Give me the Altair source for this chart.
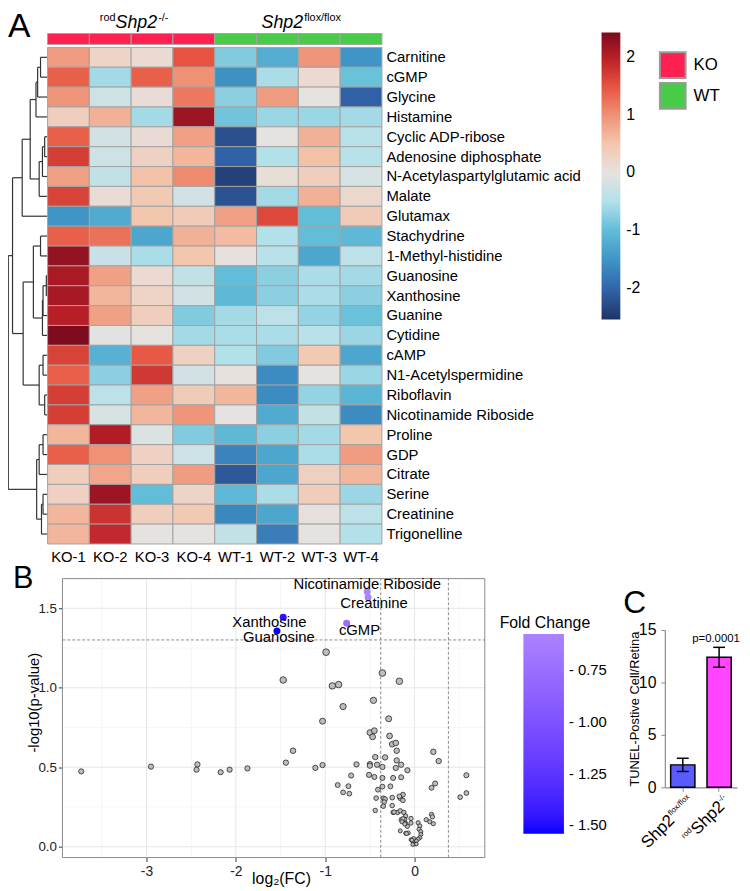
import numpy as np
import pandas as pd
import altair as alt

FONT = "Liberation Sans"
W, H = 742, 883  # whole drawing area (page minus 8px margin)

# ======================= Panel A : heatmap =======================
samples = ["KO-1", "KO-2", "KO-3", "KO-4", "WT-1", "WT-2", "WT-3", "WT-4"]
sample_group = ["KO", "KO", "KO", "KO", "WT", "WT", "WT", "WT"]
groups = ["KO", "WT"]
group_colors = ["#ff2052", "#48cc48"]

metabolites = [
    "Carnitine", "cGMP", "Glycine", "Histamine", "Cyclic ADP-ribose",
    "Adenosine diphosphate", "N-Acetylaspartylglutamic acid", "Malate",
    "Glutamax", "Stachydrine", "1-Methyl-histidine", "Guanosine", "Xanthosine",
    "Guanine", "Cytidine", "cAMP", "N1-Acetylspermidine", "Riboflavin",
    "Nicotinamide Riboside", "Proline", "GDP", "Citrate", "Serine",
    "Creatinine", "Trigonelline",
]

z_values = [
    [0.90, 0.25, 0.15, 1.50, -0.80, -1.20, 0.95, -1.50],
    [1.40, -0.60, 1.40, 1.00, -1.55, -0.55, 0.15, -0.95],
    [0.95, -0.25, 0.10, 1.20, -0.75, 0.90, 0.00, -2.05],
    [0.35, 0.70, -0.60, 2.20, -0.90, -0.65, -0.65, -0.60],
    [1.40, -0.20, 0.12, 0.85, -2.25, 0.00, 0.70, -0.45],
    [1.70, -0.25, 0.30, 0.65, -2.05, -0.50, 0.55, -0.45],
    [0.85, -0.35, 0.55, 1.05, -2.40, 0.08, 0.35, -0.15],
    [1.65, 0.10, 0.45, -0.20, -2.20, -0.60, 0.70, 0.20],
    [-1.50, -1.25, 0.50, 0.40, 0.85, 1.60, -1.00, 0.40],
    [1.40, 1.25, -1.30, 0.70, 0.60, -0.50, -1.00, -1.05],
    [2.25, -0.30, -0.55, 0.50, 0.05, -0.45, -1.30, -0.40],
    [2.10, 0.85, 0.15, -0.35, -1.00, -0.75, -0.55, -0.60],
    [2.12, 0.65, 0.25, -0.20, -1.05, -0.75, -0.55, -0.75],
    [2.00, 0.85, 0.35, -0.80, -0.60, -0.40, -0.70, -0.95],
    [2.40, -0.05, 0.00, -0.60, -0.55, -0.55, -0.45, -0.65],
    [1.65, -1.15, 1.45, 0.30, -0.50, -0.80, 0.45, -1.30],
    [1.40, -0.75, 1.75, -0.20, 0.02, -1.60, 0.00, -0.65],
    [1.70, -0.40, 0.85, 0.40, 0.65, -1.60, -0.70, -1.10],
    [1.70, -0.15, 0.65, 0.95, 0.00, -1.25, -0.35, -1.60],
    [0.65, 2.05, -0.12, -0.80, -1.05, -0.75, -0.60, 0.50],
    [1.40, 1.00, 0.30, -0.25, -1.70, -1.30, -0.55, 0.90],
    [0.35, 0.80, 0.35, 0.90, -2.15, -1.30, 0.32, 0.65],
    [0.30, 2.20, -1.00, 0.25, -1.05, -0.55, 0.38, -0.65],
    [0.65, 1.80, 0.35, 0.45, -1.65, -1.30, 0.05, -0.40],
    [0.65, 1.90, 0.00, 0.00, -0.35, -1.75, 0.00, -0.50],
]

# row dendrogram: (node, left, right, merge height)
dendro_merges = [
    ("n01", "Carnitine", "cGMP", 7.3),
    ("n02", "n01", "Glycine", 10.3),
    ("n03", "n02", "Histamine", 12.0),
    ("n04", "Cyclic ADP-ribose", "Adenosine diphosphate", 3.0),
    ("n05", "n04", "N-Acetylaspartylglutamic acid", 5.3),
    ("n06", "n05", "Malate", 8.7),
    ("n07", "n03", "n06", 18.0),
    ("n08", "n07", "Glutamax", 26.3),
    ("n09", "Stachydrine", "1-Methyl-histidine", 7.3),
    ("n10", "Guanosine", "Xanthosine", 1.3),
    ("n11", "n10", "Guanine", 4.7),
    ("n12", "n11", "Cytidine", 5.3),
    ("n13", "n09", "n12", 14.7),
    ("n14", "cAMP", "N1-Acetylspermidine", 4.7),
    ("n15", "Riboflavin", "Nicotinamide Riboside", 3.0),
    ("n16", "n14", "n15", 8.7),
    ("n17", "n13", "n16", 25.3),
    ("n18", "Proline", "GDP", 4.7),
    ("n19", "n18", "Citrate", 8.7),
    ("n20", "Serine", "Creatinine", 4.7),
    ("n21", "n20", "Trigonelline", 6.3),
    ("n22", "n19", "n21", 11.3),
    ("n23", "n08", "n17", 36.3),
    ("n24", "n23", "n22", 40.7),
]

hm_stops = [-2.55, -2.0, -1.5, -1.0, -0.5, 0.0, 0.5, 1.0, 1.5, 2.0, 2.43]
hm_colors = ["#1f3366", "#3266ac", "#3f96c6", "#62bdd8", "#b3e1ea", "#e6e2e0",
             "#f3c6ae", "#ef9174", "#e6533f", "#b81e27", "#7a0b1d"]

# ======================= Panel B : volcano =======================
gray_fc = [
    -3.73, -2.95, -2.43, -2.44, -2.17, -2.07, -1.87, -1.44, -1.36, -1.11,
    -1.03, -1.03, -0.80, -0.99, -1.47, -0.92, -0.85, -0.36, -0.17, -0.46,
    -0.29, -0.50, -0.45, -0.47, -0.28, -0.25, -0.21, -0.20, 0.21, 0.27,
    -0.44, -0.33, -0.20, -0.15, -0.08, -0.21, -0.50, -0.50, -0.42, -0.36,
    -0.65, -0.71, -0.86, -0.80, -0.74, -0.73, -0.51, -0.45, -0.36, -0.24,
    -0.15, -0.41, -0.36, -0.27, -0.43, -0.35, -0.33, -0.34, -0.35, -0.25,
    -0.25, -0.16, -0.13, -0.13, -0.44, -0.24, -0.19, -0.16, -0.12, -0.10,
    -0.15, -0.11, -0.10, -0.04, -0.04, -0.08, -0.16, -0.10, -0.07, 0.04,
    0.06, 0.05, 0.07, 0.07, 0.06, 0.04, 0.02, -0.04, -0.02, 0.00,
    0.02, 0.13, 0.17, 0.19, 0.20, 0.21, 0.19, 0.23, 0.51, 0.58,
    0.58, -0.13, -0.14, -0.11, -0.09, -0.01, -0.03, -0.02, -0.23, -0.17,
]
gray_nlogp = [
    0.474, 0.504, 0.518, 0.485, 0.469, 0.485, 0.493, 0.529, 0.604, 0.496,
    0.514, 0.790, 0.882, 1.224, 1.049, 1.012, 1.020, 1.093, 1.041, 0.921,
    0.805, 0.718, 0.730, 0.691, 0.697, 0.645, 0.653, 0.604, 0.597, 0.539,
    0.564, 0.562, 0.543, 0.516, 0.481, 0.496, 0.520, 0.510, 0.516, 0.502,
    0.518, 0.448, 0.388, 0.342, 0.381, 0.334, 0.452, 0.439, 0.433, 0.433,
    0.437, 0.359, 0.378, 0.380, 0.306, 0.305, 0.300, 0.281, 0.255, 0.309,
    0.259, 0.305, 0.328, 0.292, 0.228, 0.216, 0.216, 0.226, 0.216, 0.193,
    0.170, 0.172, 0.147, 0.178, 0.149, 0.128, 0.100, 0.085, 0.087, 0.151,
    0.131, 0.110, 0.095, 0.077, 0.058, 0.048, 0.037, 0.044, 0.031, 0.017,
    0.017, 0.170, 0.157, 0.203, 0.188, 0.145, 0.371, 0.398, 0.312, 0.338,
    0.450, 0.176, 0.157, 0.143, 0.083, 0.052, 0.042, 0.014, 0.218, 0.317,
]
sig_names = ["Nicotinamide Riboside", "Creatinine", "Xanthosine", "Guanosine", "cGMP"]
sig_fc = [-0.53, -0.52, -1.47, -1.54, -0.76]
sig_nlogp = [1.605, 1.568, 1.444, 1.357, 1.406]
p_cut = 0.05
fc_cut = 1.3
fc_legend_values = [-0.75, -1.00, -1.25, -1.50]

# ======================= Panel C : bars =======================
c_groups = ["WT", "KO"]
c_mean = [2.14, 12.4]
c_sem = [0.63, 0.95]
c_colors = ["#5a5aff", "#ff45ff"]
c_ptext = "p=0.0001"

# ---------------------------------------------------------------
CW = {'S': .667, 'h': .556, 'p': .556, '2': .556, 'f': .278, 'l': .222,
      'o': .556, 'x': .5, '/': .278, '-': .333, 'r': .333, 'd': .556}


def tw(s, size):
    return sum(CW.get(c, .556) for c in s) * size


NEG = "datum.value < 0 ? '-' + format(-datum.value, 'd') : format(datum.value, 'd')"
layers = []

# ---------------- Panel A layers ----------------
pos = {m: i + 0.5 for i, m in enumerate(metabolites)}
hgt = {m: 0.0 for m in metabolites}
segs = []
for node, a, b, h in dendro_merges:
    segs.append(dict(x1=h, x2=h, y1=pos[a], y2=pos[b]))
    segs.append(dict(x1=hgt[a], x2=h, y1=pos[a], y2=pos[a]))
    segs.append(dict(x1=hgt[b], x2=h, y1=pos[b], y2=pos[b]))
    pos[node] = (pos[a] + pos[b]) / 2
    hgt[node] = h
seg_df = pd.DataFrame(segs)
DX = alt.Scale(domain=[0, 41], range=[40, 0], nice=False, zero=False)
DY = alt.Scale(domain=[0, len(metabolites)], range=[35, 537], nice=False, zero=False)
layers.append(alt.Chart(seg_df).mark_rule(color="#333333", strokeWidth=1.2).encode(
    x=alt.X("x1:Q", scale=DX, axis=None), x2="x2:Q",
    y=alt.Y("y1:Q", scale=DY, axis=None), y2="y2:Q"))

XS = alt.Scale(domain=samples, range=[40, 378], paddingInner=0, paddingOuter=0)
YM = alt.Scale(domain=metabolites, range=[35, 537], paddingInner=0, paddingOuter=0)
hm_df = pd.DataFrame([{"metabolite": m, "sample": s, "z": z_values[i][j]}
                      for i, m in enumerate(metabolites) for j, s in enumerate(samples)])
layers.append(alt.Chart(hm_df).mark_rect(stroke="#a3a3a3", strokeWidth=1).encode(
    x=alt.X("sample:N", scale=XS, axis=alt.Axis(
        orient="bottom", offset=537 - H, domain=False, ticks=False, tickSize=0,
        labelAngle=0, labelAlign="center", labelBaseline="top", labelFontSize=15,
        labelPadding=6, labelColor="black", title=None, grid=False)),
    y=alt.Y("metabolite:N", scale=YM, axis=alt.Axis(
        orient="right", offset=378 - W, domain=False, ticks=False, tickSize=0,
        labelFontSize=15, labelPadding=4, labelColor="black", labelLimit=400,
        title=None, grid=False)),
    fill=alt.Fill("z:Q", scale=alt.Scale(domain=hm_stops, range=hm_colors, interpolate="rgb"),
                  legend=alt.Legend(orient="none", legendX=600, legendY=20, direction="vertical",
                                    gradientLength=290, gradientThickness=19, values=[2, 1, 0, -1, -2],
                                    labelExpr=NEG, labelFontSize=16, labelOffset=6, labelColor="black",
                                    labelOverlap=False, title=None, padding=0, gradientStrokeWidth=0))))

ann_df = pd.DataFrame({"sample": samples, "group": sample_group, "track": "Group"})
layers.append(alt.Chart(ann_df).mark_rect(stroke="#a3a3a3", strokeWidth=1).encode(
    x=alt.X("sample:N", scale=XS, axis=None),
    y=alt.Y("track:N", scale=alt.Scale(domain=["Group"], range=[21, 32], paddingInner=0, paddingOuter=0),
            axis=None),
    fill=alt.Fill("group:N", scale=alt.Scale(domain=groups, range=group_colors),
                  legend=alt.Legend(orient="none", legendX=658, legendY=39, symbolType="square",
                                    symbolSize=676, symbolStrokeColor="#9a9a9a", symbolStrokeWidth=2,
                                    labelFontSize=17, labelColor="black", labelOffset=7, title=None,
                                    padding=0, rowPadding=-11))))

# column-group header with super-scripts
XG = alt.Scale(domain=groups, range=[40, 378], paddingInner=0, paddingOuter=0)
hdr_pre = ["rod", ""]
hdr_main = ["Shp2", "Shp2"]
hdr_sup = ["-/-", "flox/flox"]
for g, pre, main, sup in zip(groups, hdr_pre, hdr_main, hdr_sup):
    w_pre = tw(pre, 11)
    w_main = tw(main, 18) + 1
    w_sup = tw(sup, 11)
    left = -(w_pre + w_main + w_sup) / 2 + 3
    pieces = [(pre, 11, "normal", left, 8), (main, 18, "italic", left + w_pre, 15),
              (sup, 11, "normal", left + w_pre + w_main, 8)]
    for txt, fs, style, dx, ypix in pieces:
        if not txt:
            continue
        layers.append(alt.Chart(pd.DataFrame({"group": [g], "t": [txt]})).mark_text(
            align="left", baseline="alphabetic", fontSize=fs, fontStyle=style, dx=dx, color="black").encode(
            x=alt.X("group:N", scale=XG, axis=None), y=alt.value(ypix), text="t:N"))

layers.append(alt.Chart(pd.DataFrame({"t": ["A"]})).mark_text(
    align="left", baseline="alphabetic", fontSize=34, color="black").encode(
    x=alt.value(0), y=alt.value(24), text="t:N"))

# ---------------- Panel B layers ----------------
VX_DOM = [-3.941, 0.786]
VY_DOM = [-0.068, 1.687]
VX = alt.Scale(domain=VX_DOM, range=[55, 482], nice=False, zero=False)
VY = alt.Scale(domain=VY_DOM, range=[854, 572], nice=False, zero=False)
maj_x = [-3, -2, -1, 0]
min_x = [-3.5, -2.5, -1.5, -0.5, 0.5]
maj_y = [0.0, 0.5, 1.0, 1.5]
min_y = [0.25, 0.75, 1.25]


def vrules(vals, **mk):
    df = pd.DataFrame({"x": vals, "y0": VY_DOM[0], "y1": VY_DOM[1]})
    return alt.Chart(df).mark_rule(**mk).encode(
        x=alt.X("x:Q", scale=VX, axis=None), y=alt.Y("y0:Q", scale=VY, axis=None), y2="y1:Q")


def hrules(vals, **mk):
    df = pd.DataFrame({"y": vals, "x0": VX_DOM[0], "x1": VX_DOM[1]})
    return alt.Chart(df).mark_rule(**mk).encode(
        y=alt.Y("y:Q", scale=VY, axis=None), x=alt.X("x0:Q", scale=VX, axis=None), x2="x1:Q")


layers.append(vrules(min_x, color="#f2f2f2", strokeWidth=0.7))
layers.append(hrules(min_y, color="#f2f2f2", strokeWidth=0.7))
layers.append(vrules(maj_x, color="#e6e6e6", strokeWidth=1))
layers.append(hrules(maj_y, color="#e6e6e6", strokeWidth=1))
layers.append(hrules([-np.log10(p_cut)], color="#6e6e6e", strokeWidth=0.8, strokeDash=[3, 2]))
layers.append(vrules([-np.log2(fc_cut), np.log2(fc_cut)], color="#6e6e6e", strokeWidth=0.8, strokeDash=[3, 2]))

frame_df = pd.DataFrame({"x0": [VX_DOM[0]], "x1": [VX_DOM[1]], "y0": [VY_DOM[0]], "y1": [VY_DOM[1]]})
layers.append(alt.Chart(frame_df).mark_rect(fillOpacity=0, stroke="#8a8a8a", strokeWidth=1).encode(
    x=alt.X("x0:Q", scale=VX, axis=None), x2="x1:Q",
    y=alt.Y("y0:Q", scale=VY, axis=None), y2="y1:Q"))

gray_df = pd.DataFrame({"fc": gray_fc, "nlp": gray_nlogp})
layers.append(alt.Chart(gray_df).mark_circle(color="#bdbdbd", stroke="#1a1a1a", strokeWidth=0.75, opacity=1).encode(
    x=alt.X("fc:Q", scale=VX, axis=alt.Axis(
        orient="bottom", offset=854 - H, values=maj_x, labelExpr=NEG, grid=False, domain=False,
        tickSize=4, tickColor="#333333", labelFontSize=14, labelColor="#222222", labelPadding=3,
        title="log₂(FC)", titleFontSize=16, titleFontWeight="normal", titleColor="black",
        titleX=276, titleY=26, titleBaseline="alphabetic")),
    y=alt.Y("nlp:Q", scale=VY, axis=alt.Axis(
        orient="left", offset=-55, values=maj_y, format=".1f", grid=False, domain=False,
        tickSize=4, tickColor="#333333", labelFontSize=13.5, labelColor="#222222", labelPadding=2,
        title="-log10(p-value)", titleFontSize=15, titleFontWeight="normal", titleColor="black",
        titleAngle=270, titleX=-24, titleY=697, titleBaseline="alphabetic")),
    size=alt.Size("nlp:Q", scale=alt.Scale(domain=[0, 1.1], range=[14, 46], clamp=True), legend=None)))

sig_df = pd.DataFrame({"name": sig_names, "fc": sig_fc, "nlp": sig_nlogp})
layers.append(alt.Chart(sig_df).mark_circle(size=50, opacity=1).encode(
    x=alt.X("fc:Q", scale=VX, axis=None),
    y=alt.Y("nlp:Q", scale=VY, axis=None),
    color=alt.Color("fc:Q", scale=alt.Scale(domain=[-1.54, -0.575], range=["#0000ff", "#ab82ff"],
                                            interpolate="lab", clamp=True),
                    legend=alt.Legend(orient="none", legendX=521, legendY=628, direction="vertical",
                                      gradientLength=202, gradientThickness=41, values=fc_legend_values,
                                      labelExpr="'- ' + format(-datum.value, '.2f')", labelFontSize=15,
                                      labelOffset=5, labelColor="black", labelOverlap=False,
                                      title=None, padding=0, gradientStrokeWidth=0))))

label_offsets = {"Nicotinamide Riboside": (0, -3), "Creatinine": (6, 11), "Xanthosine": (-14, 10),
                 "Guanosine": (2, 11), "cGMP": (13, 12)}
for n in sig_names:
    dx, dy = label_offsets[n]
    layers.append(alt.Chart(sig_df[sig_df["name"] == n]).mark_text(
        align="center", baseline="alphabetic", fontSize=15, dx=dx, dy=dy, color="black").encode(
        x=alt.X("fc:Q", scale=VX, axis=None), y=alt.Y("nlp:Q", scale=VY, axis=None), text="name:N"))

layers.append(alt.Chart(pd.DataFrame({"t": ["Fold Change"]})).mark_text(
    align="left", baseline="alphabetic", fontSize=16, color="black").encode(
    x=alt.value(497), y=alt.value(622), text="t:N"))
layers.append(alt.Chart(pd.DataFrame({"t": ["B"]})).mark_text(
    align="left", baseline="alphabetic", fontSize=31, color="black").encode(
    x=alt.value(5), y=alt.value(582), text="t:N"))

# ---------------- Panel C layers ----------------
BX = alt.Scale(domain=c_groups, range=[664, 737], paddingInner=0.333, paddingOuter=0.16)
BY = alt.Scale(domain=[0, 15], range=[783, 624], nice=False, zero=False)
c_df = pd.DataFrame({"group": c_groups, "mean": c_mean, "sem": c_sem})
c_df["lo"] = c_df["mean"] - c_df["sem"]
c_df["hi"] = c_df["mean"] + c_df["sem"]
c_df["base"] = 0.0

layers.append(alt.Chart(c_df).mark_bar(stroke="black", strokeWidth=1.5).encode(
    x=alt.X("group:N", scale=BX, axis=alt.Axis(
        orient="bottom", offset=783 - H, labels=False, ticks=True, tickSize=4, tickColor="#8c8c8c",
        domain=True, domainColor="#8c8c8c", domainWidth=1.2, title=None, grid=False)),
    y=alt.Y("mean:Q", scale=BY, axis=alt.Axis(
        orient="left", offset=-664, values=[0, 5, 10, 15], grid=False, domain=True,
        domainColor="#8c8c8c", domainWidth=1.2, tickSize=4, tickColor="#8c8c8c",
        labelFontSize=16, labelColor="black", labelPadding=5,
        title="TUNEL-Postive Cell/Retina", titleFontSize=13, titleFontWeight="normal",
        titleColor="black", titleAngle=270, titleX=-27, titleBaseline="alphabetic")),
    fill=alt.Fill("group:N", scale=alt.Scale(domain=c_groups, range=c_colors), legend=None)))
layers.append(alt.Chart(c_df).mark_rule(color="black", strokeWidth=1.5).encode(
    x=alt.X("group:N", scale=BX, axis=None), y=alt.Y("lo:Q", scale=BY, axis=None), y2="hi:Q"))
for fld in ["lo", "hi"]:
    layers.append(alt.Chart(c_df).mark_tick(color="black", thickness=1.5, size=12, opacity=1).encode(
        x=alt.X("group:N", scale=BX, axis=None), y=alt.Y(f"{fld}:Q", scale=BY, axis=None)))
layers.append(alt.Chart(c_df[c_df["group"] == "KO"].assign(t=c_ptext)).mark_text(
    align="center", baseline="alphabetic", fontSize=11.5, dx=-3, dy=-5, color="black").encode(
    x=alt.X("group:N", scale=BX, axis=None), y=alt.Y("hi:Q", scale=BY, axis=None), text="t:N"))

# rotated group labels with super-scripts
c_pre = ["", "rod"]
c_main = ["Shp2", "Shp2"]
c_sup = ["flox/flox", "-/-"]
d0 = -2
for g, pre, main, sup in zip(c_groups, c_pre, c_main, c_sup):
    w_sup = tw(sup, 8) + 0.5
    w_main = tw(main, 17) + 0.5
    pieces = [(sup, 8, d0, 12), (main, 17, d0 - w_sup, 19), (pre, 8, d0 - w_sup - w_main, 12)]
    for txt, fs, dx, dy in pieces:
        if not txt:
            continue
        layers.append(alt.Chart(c_df[c_df["group"] == g].assign(t=txt)).mark_text(
            angle=315, align="right", baseline="alphabetic", fontSize=fs, dx=dx, dy=dy, color="black").encode(
            x=alt.X("group:N", scale=BX, axis=None), y=alt.Y("base:Q", scale=BY, axis=None), text="t:N"))

layers.append(alt.Chart(pd.DataFrame({"t": ["C"]})).mark_text(
    align="left", baseline="alphabetic", fontSize=32, color="black").encode(
    x=alt.value(622), y=alt.value(607), text="t:N"))

chart = alt.layer(*layers).resolve_scale(
    x="independent", y="independent", fill="independent", color="independent", size="independent"
).properties(width=W, height=H, padding=0, autosize="none").configure(font=FONT).configure_view(strokeWidth=0)

chart.save("out.html", embed_options={"renderer": "svg", "actions": False})
